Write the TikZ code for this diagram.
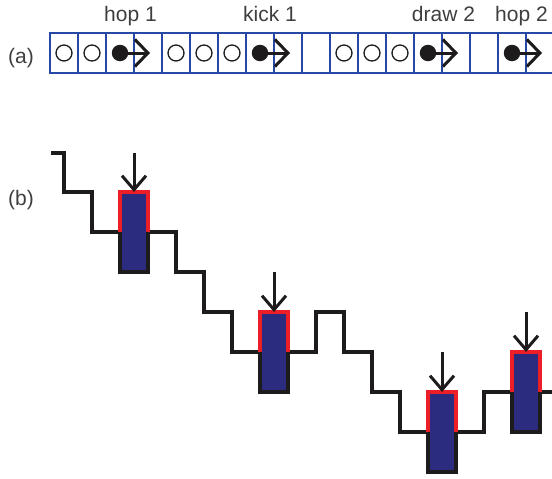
\documentclass[tikz,border=0pt]{standalone}
\usepackage{fontspec}
\setmainfont{Liberation Sans}
\usetikzlibrary{arrows.meta}
\definecolor{cellblue}{RGB}{40,72,165}
\definecolor{barnavy}{RGB}{43,43,127}
\definecolor{barred}{RGB}{236,30,40}
\definecolor{ink}{RGB}{30,27,28}
\begin{document}
\begin{tikzpicture}[x=1pt,y=-1pt,
  cellbox/.style={draw=cellblue, line width=2.8pt, minimum width=28pt, minimum height=40pt, inner sep=0pt, outer sep=0pt},
  opendot/.style={circle, draw=ink, line width=1.3pt, minimum size=16pt, inner sep=0pt},
  filldot/.style={circle, fill=ink, minimum size=16.5pt, inner sep=0pt},
  movearrow/.style={draw=ink, line width=3pt, -{Straight Barb[length=13pt,width=27pt,line width=3pt]}},
  droparrow/.style={draw=ink, line width=3pt, -{Straight Barb[length=14pt,width=24pt,line width=3pt]}},
  lbl/.style={anchor=base, inner sep=0pt, font=\fontsize{21}{24}\selectfont, text=ink!85},
  barbox/.style={fill=barnavy, minimum width=28pt, minimum height=80pt, inner sep=0pt, outer sep=0pt},
  stair/.style={draw=ink, line width=3.2pt, line join=miter},
  upper/.style={draw=barred, line width=3.2pt, line join=miter}]
\useasboundingbox (0,0) rectangle (552,479);

% ---- (a) row of cells ----
\foreach \i in {1,...,18}
  \node[cellbox] (c\i) at ({36+28*\i},53) {};
\foreach \i in {1,2,5,6,7,11,12,13}
  \node[opendot] (o\i) at (c\i) {};
\foreach \i in {3,8,14,17}
  \node[filldot] (d\i) at (c\i) {};
\foreach \i/\j in {3/4,8/9,14/15,17/18}
  \draw[movearrow] (d\i.center) -- ([xshift=2pt]c\j.center);

\node[lbl] (pa) at (21,63) {(a)};
\node[lbl] (l1) at (130.5,21) {hop 1};
\node[lbl] (l2) at (270,21) {kick 1};
\node[lbl] (l3) at (443.5,21) {draw 2};
\node[lbl] (l4) at (521.5,21) {hop 2};

% ---- (b) staircase with proposal bars ----
\node[lbl] (pb) at (21,205) {(b)};
\node[barbox] (b1) at (134,232) {};
\node[barbox] (b2) at (274,352) {};
\node[barbox] (b3) at (442,432) {};
\node[barbox] (b4) at (526,392) {};

\draw[stair] (51,153) -- (64,153) -- (64,192) -- (92,192) -- (92,232)
  -- (b1.west) -- (b1.south west) -- (b1.south east) -- (b1.east)
  -- (176,232) -- (176,272) -- (204,272) -- (204,312) -- (232,312) -- (232,352)
  -- (b2.west) -- (b2.south west) -- (b2.south east) -- (b2.east)
  -- (316,352) -- (316,312) -- (344,312) -- (344,352) -- (372,352) -- (372,392)
  -- (400,392) -- (400,432)
  -- (b3.west) -- (b3.south west) -- (b3.south east) -- (b3.east)
  -- (484,432) -- (484,392)
  -- (b4.west) -- (b4.south west) -- (b4.south east) -- (b4.east)
  -- (558,392);

\foreach \k in {1,2,3,4}
  \draw[upper] (b\k.west) -- (b\k.north west) -- (b\k.north east) -- (b\k.east);

\coordinate (t1) at (134,153);
\coordinate (t2) at (274,272);
\coordinate (t3) at (442,352);
\coordinate (t4) at (526,312);
\foreach \k in {1,2,3,4}
  \draw[droparrow] (t\k) -- (b\k.north);
\end{tikzpicture}
\end{document}
